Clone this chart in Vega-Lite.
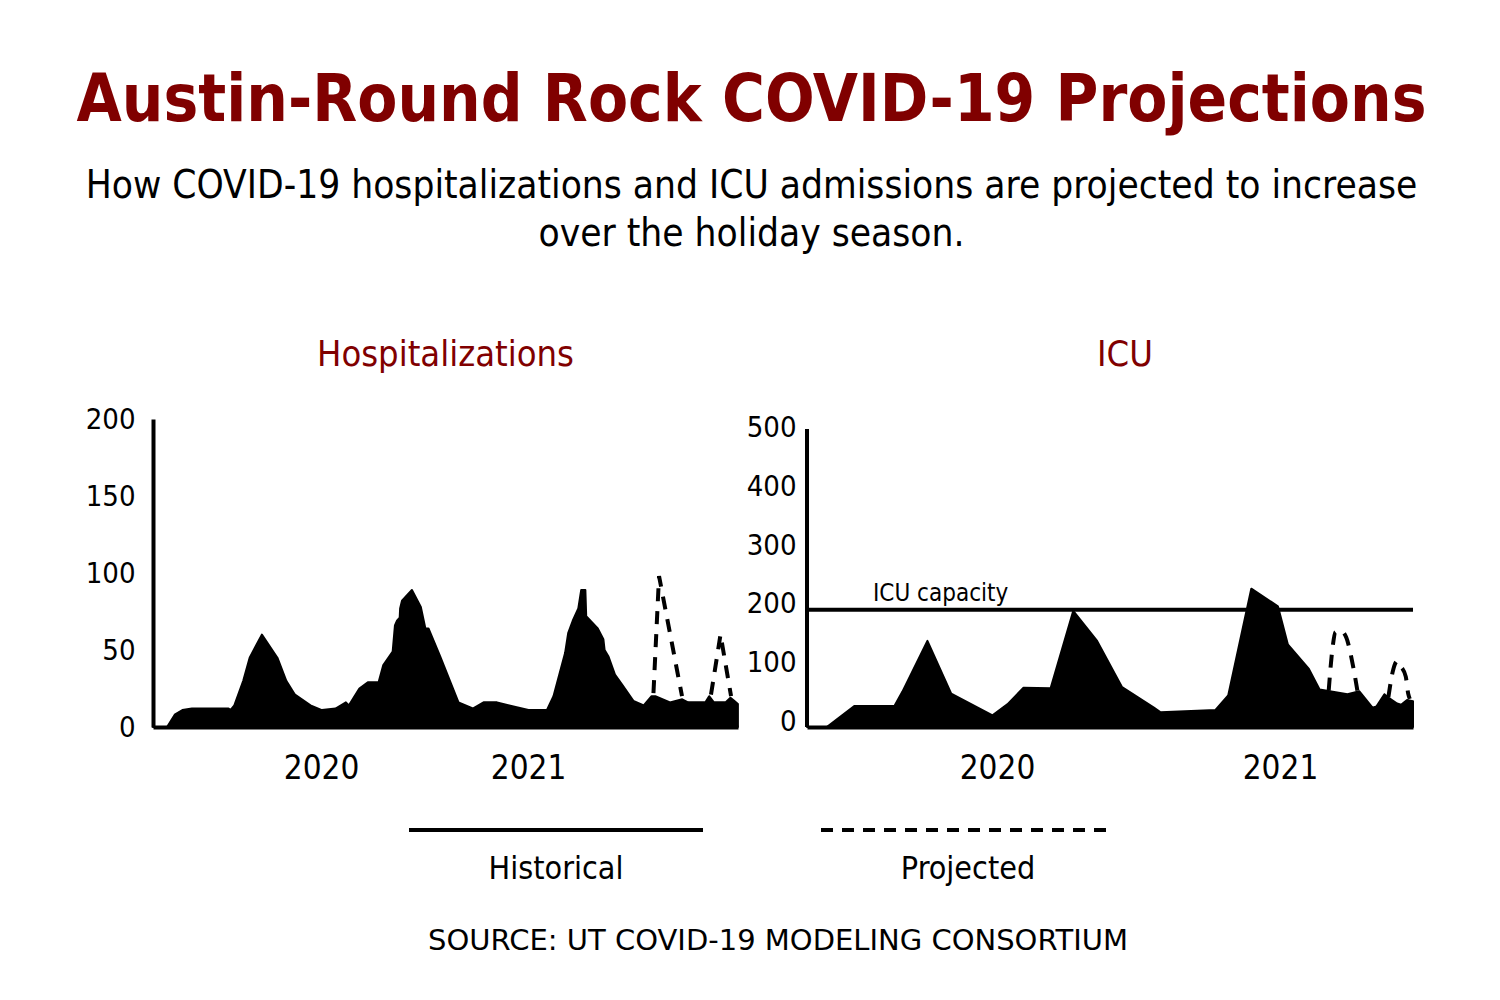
{
  "$schema": "https://vega.github.io/schema/vega-lite/v6.json",
  "background": "white",
  "padding": {"left": 76, "top": 68, "right": 10, "bottom": 10},
  "config": {
    "view": {"stroke": null},
    "font": "DejaVu Sans Condensed, Liberation Sans, sans-serif",
    "axis": {"grid": false, "ticks": false, "domainColor": "black", "domainWidth": 4, "labelColor": "black", "labelFont": "DejaVu Sans Condensed, Liberation Sans, sans-serif", "labelFlush": false, "title": null}
  },
  "title": {
    "text": "Austin-Round Rock COVID-19 Projections",
    "subtitle": ["How COVID-19 hospitalizations and ICU admissions are projected to increase", "over the holiday season."],
    "anchor": "middle",
    "font": "DejaVu Sans Condensed, Liberation Sans, sans-serif",
    "fontSize": 65,
    "fontWeight": "bold",
    "color": "#800000",
    "subtitleFont": "DejaVu Sans Condensed, Liberation Sans, sans-serif",
    "subtitleFontSize": 38.5,
    "subtitleColor": "black",
    "subtitleLineHeight": 48,
    "subtitlePadding": 33.5,
    "offset": 82
  },
  "datasets": {
    "hosp_hist": [
      {"t": 2019.188, "patients": 0}, {"t": 2019.256, "patients": 0}, {"t": 2019.293, "patients": 8}, {"t": 2019.330, "patients": 11},
      {"t": 2019.376, "patients": 12}, {"t": 2019.553, "patients": 12}, {"t": 2019.562, "patients": 11}, {"t": 2019.581, "patients": 14},
      {"t": 2019.624, "patients": 30}, {"t": 2019.655, "patients": 45}, {"t": 2019.714, "patients": 60}, {"t": 2019.789, "patients": 45},
      {"t": 2019.832, "patients": 30}, {"t": 2019.874, "patients": 21}, {"t": 2019.949, "patients": 14}, {"t": 2020.004, "patients": 11},
      {"t": 2020.070, "patients": 12}, {"t": 2020.120, "patients": 16}, {"t": 2020.134, "patients": 14}, {"t": 2020.185, "patients": 25},
      {"t": 2020.226, "patients": 29}, {"t": 2020.278, "patients": 29}, {"t": 2020.300, "patients": 40}, {"t": 2020.346, "patients": 49},
      {"t": 2020.357, "patients": 66}, {"t": 2020.367, "patients": 69}, {"t": 2020.380, "patients": 71}, {"t": 2020.382, "patients": 77},
      {"t": 2020.391, "patients": 82}, {"t": 2020.439, "patients": 89}, {"t": 2020.482, "patients": 78}, {"t": 2020.504, "patients": 64},
      {"t": 2020.519, "patients": 64}, {"t": 2020.575, "patients": 46}, {"t": 2020.664, "patients": 16}, {"t": 2020.733, "patients": 12},
      {"t": 2020.785, "patients": 16}, {"t": 2020.850, "patients": 16}, {"t": 2020.909, "patients": 14}, {"t": 2021.002, "patients": 11},
      {"t": 2021.091, "patients": 11}, {"t": 2021.123, "patients": 20}, {"t": 2021.179, "patients": 48}, {"t": 2021.194, "patients": 61},
      {"t": 2021.216, "patients": 69}, {"t": 2021.243, "patients": 77}, {"t": 2021.257, "patients": 89}, {"t": 2021.277, "patients": 89},
      {"t": 2021.281, "patients": 72}, {"t": 2021.337, "patients": 64}, {"t": 2021.364, "patients": 57}, {"t": 2021.370, "patients": 50},
      {"t": 2021.388, "patients": 46}, {"t": 2021.420, "patients": 34}, {"t": 2021.457, "patients": 27}, {"t": 2021.509, "patients": 17},
      {"t": 2021.559, "patients": 14}, {"t": 2021.597, "patients": 20}, {"t": 2021.615, "patients": 20}, {"t": 2021.686, "patients": 16},
      {"t": 2021.745, "patients": 18}, {"t": 2021.773, "patients": 16}, {"t": 2021.857, "patients": 16}, {"t": 2021.875, "patients": 20},
      {"t": 2021.898, "patients": 16}, {"t": 2021.954, "patients": 16}, {"t": 2021.978, "patients": 19}, {"t": 2021.996, "patients": 17},
      {"t": 2022.014, "patients": 15}
    ],
    "hosp_proj": [
      {"t": 2021.606, "patients": 22, "wave": "A"}, {"t": 2021.633, "patients": 98, "wave": "A"}, {"t": 2021.744, "patients": 20, "wave": "A"},
      {"t": 2021.884, "patients": 21, "wave": "B"}, {"t": 2021.930, "patients": 60, "wave": "B"}, {"t": 2021.981, "patients": 20, "wave": "B"}
    ],
    "icu_hist": [
      {"t": 2019.3286, "patients": 0}, {"t": 2019.3986, "patients": 0}, {"t": 2019.4968, "patients": 36}, {"t": 2019.6375, "patients": 36},
      {"t": 2019.6654, "patients": 60}, {"t": 2019.7541, "patients": 147}, {"t": 2019.8382, "patients": 57}, {"t": 2019.9841, "patients": 20},
      {"t": 2020.0375, "patients": 39}, {"t": 2020.0936, "patients": 67}, {"t": 2020.1894, "patients": 66}, {"t": 2020.2693, "patients": 198},
      {"t": 2020.3537, "patients": 147}, {"t": 2020.4420, "patients": 68}, {"t": 2020.5544, "patients": 33}, {"t": 2020.5781, "patients": 25},
      {"t": 2020.7721, "patients": 29}, {"t": 2020.8170, "patients": 54}, {"t": 2020.8986, "patients": 236}, {"t": 2020.9926, "patients": 206},
      {"t": 2021.0276, "patients": 141}, {"t": 2021.1021, "patients": 99}, {"t": 2021.1399, "patients": 64}, {"t": 2021.2382, "patients": 56},
      {"t": 2021.2806, "patients": 61}, {"t": 2021.3269, "patients": 33}, {"t": 2021.3406, "patients": 35}, {"t": 2021.3689, "patients": 56},
      {"t": 2021.3830, "patients": 50}, {"t": 2021.4138, "patients": 40}, {"t": 2021.4279, "patients": 38}, {"t": 2021.4488, "patients": 46},
      {"t": 2021.470, "patients": 44}
    ],
    "icu_proj": [
      {"t": 2021.1721, "patients": 62, "wave": "A"}, {"t": 2021.1862, "patients": 137, "wave": "A"}, {"t": 2021.1961, "patients": 162, "wave": "A"},
      {"t": 2021.2145, "patients": 164, "wave": "A"}, {"t": 2021.2339, "patients": 153, "wave": "A"}, {"t": 2021.2594, "patients": 101, "wave": "A"},
      {"t": 2021.2735, "patients": 62, "wave": "A"},
      {"t": 2021.3830, "patients": 51, "wave": "B"}, {"t": 2021.3996, "patients": 97, "wave": "B"}, {"t": 2021.4138, "patients": 112, "wave": "B"},
      {"t": 2021.4279, "patients": 103, "wave": "B"}, {"t": 2021.4445, "patients": 86, "wave": "B"}, {"t": 2021.4530, "patients": 57, "wave": "B"},
      {"t": 2021.4587, "patients": 48, "wave": "B"}
    ],
    "icu_capacity": [{"capacity": 200, "label": "ICU capacity"}],
    "legend": [{"series": "Historical"}, {"series": "Projected"}]
  },
  "vconcat": [
    {
      "hconcat": [
        {
          "width": 585,
          "height": 308,
          "title": {"text": "Hospitalizations", "color": "#800000", "fontSize": 36, "fontWeight": "normal", "anchor": "middle", "frame": "group", "offset": 31},
          "layer": [
            {
              "data": {"name": "hosp_hist"},
              "mark": {"type": "area", "color": "black", "stroke": "black", "strokeWidth": 2, "strokeJoin": "round"},
              "encoding": {
                "x": {"field": "t", "type": "quantitative", "scale": {"domain": [2019.188, 2022.0145], "nice": false, "zero": false},
                      "axis": {"values": [2020, 2021], "format": "d", "labelFontSize": 33, "labelPadding": 25}},
                "y": {"field": "patients", "type": "quantitative", "scale": {"domain": [0, 200], "nice": false},
                      "axis": {"values": [0, 50, 100, 150, 200], "labelFontSize": 29, "labelPadding": 18}}
              }
            },
            {
              "data": {"name": "hosp_proj"},
              "mark": {"type": "line", "color": "black", "strokeWidth": 4, "strokeDash": [13, 10]},
              "encoding": {
                "x": {"field": "t", "type": "quantitative"},
                "y": {"field": "patients", "type": "quantitative"},
                "detail": {"field": "wave", "type": "nominal"}
              }
            }
          ]
        },
        {
          "width": 606,
          "height": 308,
          "title": {"text": "ICU", "color": "#800000", "fontSize": 36, "fontWeight": "normal", "anchor": "middle", "frame": "group", "offset": 40, "dx": 15},
          "layer": [
            {
              "data": {"name": "icu_hist"},
              "mark": {"type": "area", "color": "black", "stroke": "black", "strokeWidth": 2, "strokeJoin": "round"},
              "encoding": {
                "x": {"field": "t", "type": "quantitative", "scale": {"domain": [2019.3286, 2021.47], "nice": false, "zero": false},
                      "axis": {"values": [2020, 2021], "format": "d", "labelFontSize": 33, "labelPadding": 25}},
                "y": {"field": "patients", "type": "quantitative", "scale": {"domain": [0, 525.56], "nice": false},
                      "axis": {"values": [0, 100, 200, 300, 400, 500], "labelFontSize": 29, "labelPadding": 11, "labelOffset": -6, "domain": false}}
              }
            },
            {
              "data": {"name": "icu_capacity"},
              "mark": {"type": "rule", "color": "black", "strokeWidth": 4},
              "encoding": {
                "x": {"datum": 2019.3286, "type": "quantitative"},
                "y": {"datum": 0, "type": "quantitative"},
                "y2": {"datum": 508.5}
              }
            },
            {
              "data": {"name": "icu_capacity"},
              "mark": {"type": "rule", "color": "black", "strokeWidth": 4},
              "encoding": {"y": {"field": "capacity", "type": "quantitative"}}
            },
            {
              "data": {"name": "icu_capacity"},
              "mark": {"type": "text", "align": "left", "baseline": "alphabetic", "dy": -9, "fontSize": 24, "color": "black"},
              "encoding": {
                "x": {"datum": 2019.5618, "type": "quantitative"},
                "y": {"field": "capacity", "type": "quantitative"},
                "text": {"field": "label"}
              }
            },
            {
              "data": {"name": "icu_proj"},
              "mark": {"type": "line", "color": "black", "strokeWidth": 4, "strokeDash": [13, 10], "interpolate": "monotone"},
              "encoding": {
                "x": {"field": "t", "type": "quantitative"},
                "y": {"field": "patients", "type": "quantitative"},
                "detail": {"field": "wave", "type": "nominal"}
              }
            }
          ]
        }
      ],
      "spacing": 6
    },
    {
      "width": 962,
      "height": 2,
      "data": {"name": "legend"},
      "title": {"text": "SOURCE: UT COVID-19 MODELING CONSORTIUM", "orient": "bottom", "anchor": "middle", "frame": "group", "font": "DejaVu Sans", "fontSize": 29, "fontWeight": "normal", "color": "black", "offset": 43, "dx": 144},
      "mark": {"type": "rule", "color": "black", "strokeWidth": 4},
      "encoding": {
        "x": {"field": "series", "type": "nominal", "bandPosition": 0,
              "scale": {"type": "band", "paddingInner": 0.2864, "paddingOuter": 0.3107, "align": 1},
              "axis": {"domain": false, "labelFontSize": 32, "labelPadding": 22, "labelAngle": 0}},
        "x2": {"field": "series", "bandPosition": 1},
        "strokeDash": {"field": "series", "type": "nominal", "scale": {"domain": ["Historical", "Projected"], "range": [[1, 0], [12, 9]]}, "legend": null}
      }
    }
  ],
  "spacing": 43
}
